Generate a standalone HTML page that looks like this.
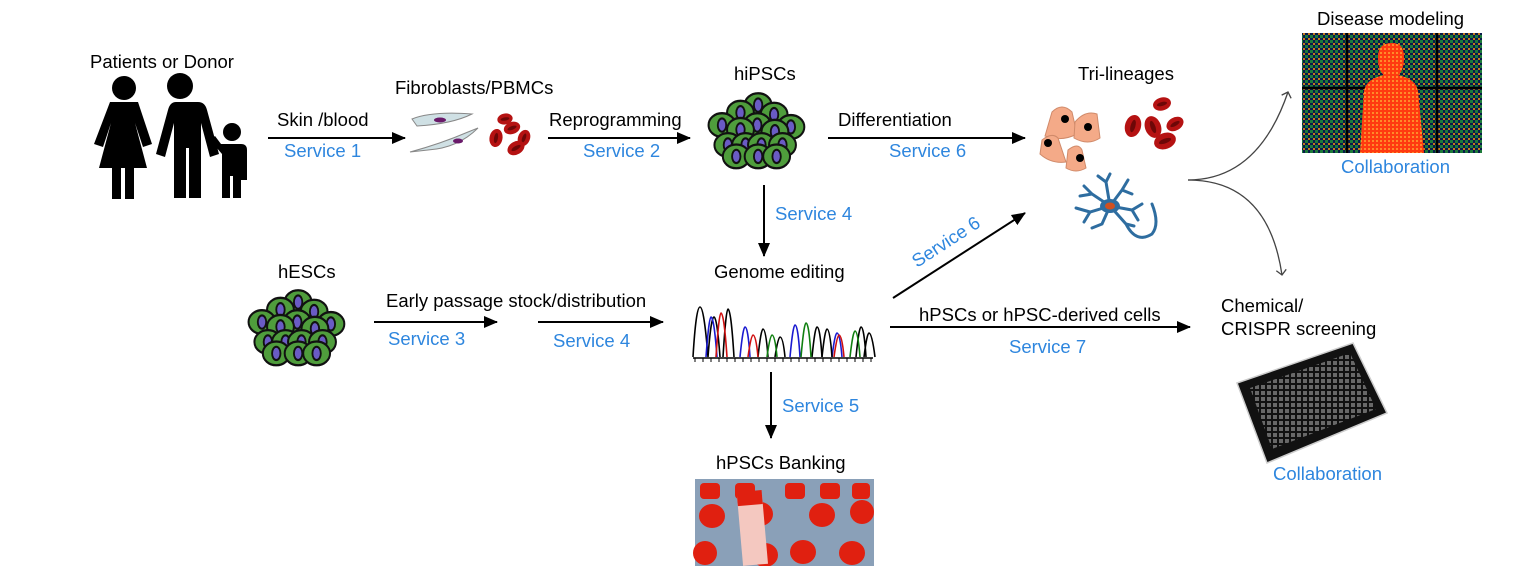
<!DOCTYPE html>
<html><head><meta charset="utf-8"><style>
html,body{margin:0;padding:0;background:#fff;}
svg{display:block;}
text{font-family:"Liberation Sans",Arial,sans-serif;font-size:18.5px;fill:#000;}
.b{fill:#2e86de;}
</style></head><body>
<svg width="1525" height="566" viewBox="0 0 1525 566" xmlns="http://www.w3.org/2000/svg">
<defs>
<marker id="ah" markerWidth="14" markerHeight="12" refX="13" refY="6" orient="auto" markerUnits="userSpaceOnUse">
<path d="M0,0 L14,6 L0,12 z" fill="#000"/></marker>
<marker id="ao" markerWidth="12" markerHeight="12" refX="6" refY="6" orient="auto" markerUnits="userSpaceOnUse">
<path d="M1,1 L6,6 L1,11" fill="none" stroke="#444" stroke-width="1.3"/></marker>
<g id="cell"><ellipse rx="16" ry="12.5" fill="#4f9d3c" stroke="#111" stroke-width="2.4"/><ellipse rx="5" ry="7" fill="#6a5bc4" stroke="#111" stroke-width="2.2"/></g>
<g id="cluster">
<use href="#cell" x="68" y="18"/><use href="#cell" x="47" y="26"/><use href="#cell" x="87" y="28"/>
<use href="#cell" x="25" y="39"/><use href="#cell" x="67" y="39"/><use href="#cell" x="107" y="41"/>
<use href="#cell" x="47" y="44"/><use href="#cell" x="88" y="46"/>
<use href="#cell" x="32" y="60"/><use href="#cell" x="53" y="60"/><use href="#cell" x="72" y="60"/><use href="#cell" x="97" y="60"/>
<use href="#cell" x="42" y="72"/><use href="#cell" x="68" y="72"/><use href="#cell" x="90" y="72"/>
</g>
<g id="rbc"><ellipse rx="10" ry="14" fill="#b51212"/><ellipse rx="3" ry="8" fill="#6d0707"/></g>
<pattern id="grid" width="5" height="5" patternUnits="userSpaceOnUse"><rect width="5" height="5" fill="#0a1a4a"/><rect width="3" height="3" fill="#1d7a3a"/><rect x="3" y="3" width="2" height="2" fill="#c77a1a"/></pattern>
<pattern id="grid2" width="4" height="4" patternUnits="userSpaceOnUse"><rect width="4" height="4" fill="#ff3a10"/><rect width="2" height="2" fill="#ff8a2a"/></pattern>
<pattern id="wells" width="6" height="6" patternUnits="userSpaceOnUse"><rect width="6" height="6" fill="#111"/><rect x="1" y="1" width="4" height="4" fill="#777"/></pattern>
</defs>

<!-- people -->
<text x="90" y="68">Patients or Donor</text>
<g fill="#000">
<circle cx="124" cy="88" r="12"/>
<path d="M110,102 h28 l14,42 l-9,3 l-8,-24 l12,45 h-13 v31 h-9 v-31 h-4 v31 h-9 v-31 h-13 l12,-45 l-8,24 l-9,-3 z"/>
<circle cx="180" cy="86" r="13"/>
<path d="M162,102 h36 q7,0 9,8 l12,44 l-9,3 l-9,-34 v75 h-12 v-50 h-3 v50 h-12 v-75 l-9,34 l-9,-3 l12,-44 q2,-8 8,-8z"/>
<circle cx="232" cy="132" r="9"/>
<path d="M221,144 h20 q6,0 6,6 v30 h-6 v-20 v38 h-8 v-22 h-3 v22 h-8 v-44 l-12,-14 l5,-4z"/>
</g>

<text x="277" y="126">Skin /blood</text>
<text x="284" y="157" class="b">Service 1</text>
<line x1="268" y1="138" x2="405" y2="138" stroke="#000" stroke-width="2" marker-end="url(#ah)"/>

<text x="395" y="94">Fibroblasts/PBMCs</text>
<path d="M412,119 q20,-8 60,-5 q-20,10 -55,12 z" fill="#cfe0e4" stroke="#888"/>
<ellipse cx="440" cy="120" rx="6" ry="2.5" fill="#6a1a6a"/>
<path d="M410,152 q30,-8 58,-20 l10,-4 q-20,20 -50,22 z" fill="#cfe0e4" stroke="#888"/>
<ellipse cx="458" cy="141" rx="5" ry="2.5" fill="#6a1a6a"/>
<use href="#rbc" transform="translate(496,138) rotate(10) scale(0.65)"/>
<use href="#rbc" transform="translate(512,128) rotate(70) scale(0.6)"/>
<use href="#rbc" transform="translate(524,138) rotate(20) scale(0.6)"/>
<use href="#rbc" transform="translate(516,148) rotate(60) scale(0.65)"/>
<use href="#rbc" transform="translate(505,119) rotate(80) scale(0.55)"/>

<text x="549" y="126">Reprogramming</text>
<text x="583" y="157" class="b">Service 2</text>
<line x1="548" y1="138" x2="690" y2="138" stroke="#000" stroke-width="2" marker-end="url(#ah)"/>

<text x="734" y="80">hiPSCs</text>
<use href="#cluster" transform="translate(701,88) scale(0.84,0.95)"/>

<text x="838" y="126">Differentiation</text>
<text x="889" y="157" class="b">Service 6</text>
<line x1="828" y1="138" x2="1025" y2="138" stroke="#000" stroke-width="2" marker-end="url(#ah)"/>

<text x="1078" y="80">Tri-lineages</text>
<g fill="#f4aa88" stroke="#d08a6a">
<path d="M1052,112 q10,-10 20,0 l5,22 q-15,8 -32,2z"/>
<path d="M1075,122 q10,-12 22,-8 l3,24 q-12,8 -26,0z"/>
<path d="M1042,140 q10,-8 16,-2 l8,24 q-15,2 -26,-8z"/>
<path d="M1068,150 q10,-8 14,0 l4,18 q-10,6 -20,0z"/>
</g>
<g fill="#000"><circle cx="1065" cy="119" r="4"/><circle cx="1088" cy="127" r="4"/><circle cx="1048" cy="143" r="4"/><circle cx="1080" cy="158" r="4"/></g>
<use href="#rbc" transform="translate(1133,126) rotate(15) scale(0.8)"/>
<use href="#rbc" transform="translate(1162,104) rotate(75) scale(0.65)"/>
<use href="#rbc" transform="translate(1153,127) rotate(-20) scale(0.8)"/>
<use href="#rbc" transform="translate(1175,124) rotate(60) scale(0.65)"/>
<use href="#rbc" transform="translate(1165,141) rotate(70) scale(0.8)"/>
<g stroke="#2e6da0" stroke-width="3" fill="none" stroke-linecap="round">
<path d="M1110,206 l-18,-12 l-8,-8 M1092,194 l-12,2 M1110,206 l-4,-24 l-8,-6 M1106,182 l4,-8 M1110,206 l12,-16 l6,-10 M1122,190 l10,4 M1110,206 l22,4 l10,-6 M1132,210 l6,10 M1110,206 l-20,6 l-14,-4 M1090,212 l-6,10 M1110,206 l-8,18 l-10,4 M1110,206 l16,18 l8,2 M1126,224 q10,20 26,10 q8,-10 0,-30"/>
</g>
<ellipse cx="1110" cy="206" rx="10" ry="7" fill="#2e6da0"/>
<ellipse cx="1110" cy="206" rx="5" ry="3.5" fill="#d05020"/>

<!-- curves -->
<path d="M1188,180 q70,0 100,-88" fill="none" stroke="#444" stroke-width="1.3" marker-end="url(#ao)"/>
<path d="M1188,180 q80,0 94,95" fill="none" stroke="#444" stroke-width="1.3" marker-end="url(#ao)"/>

<text x="1317" y="25">Disease modeling</text>
<rect x="1302" y="33" width="180" height="120" fill="url(#grid)"/>
<g stroke="#000" stroke-width="2.5"><line x1="1347" y1="33" x2="1347" y2="153"/><line x1="1437" y1="33" x2="1437" y2="153"/><line x1="1302" y1="88" x2="1482" y2="88"/></g>
<path d="M1392,43 q12,0 12,14 q0,14 -6,18 q18,4 20,16 l6,62 h-64 l4,-62 q2,-12 20,-16 q-6,-4 -6,-18 q0,-14 14,-14z" fill="url(#grid2)"/>
<text x="1341" y="173" class="b">Collaboration</text>

<text x="1221" y="312">Chemical/</text>
<text x="1221" y="335">CRISPR screening</text>
<path d="M1237,383 l116,-40 l34,70 l-120,50 z" fill="#111" stroke="#ccc" stroke-width="1.5"/>
<path d="M1250,388 l100,-35 l26,56 l-104,40z" fill="url(#wells)" opacity="0.85"/>
<text x="1273" y="480" class="b">Collaboration</text>

<line x1="764" y1="185" x2="764" y2="256" stroke="#000" stroke-width="2" marker-end="url(#ah)"/>
<text x="775" y="220" class="b">Service 4</text>

<text x="714" y="278">Genome editing</text>
<g fill="none" stroke-width="1.6">
<path d="M693,357 q3,-50 7,-50 q4,0 8,50 q3,-40 6,-40 q3,0 6,40 M723,357 q3,-48 5,-48 q3,0 6,48" stroke="#000"/>
<path d="M706,357 q3,-40 5,-40 q3,0 6,40" stroke="#1a1ad0"/>
<path d="M716,357 q3,-44 5,-44 q3,0 6,44" stroke="#d01010"/>
<path d="M740,357 q3,-30 5,-30 q3,0 5,30 M790,357 q3,-32 5,-32 q3,0 5,32 M832,357 q3,-24 5,-24 q3,0 5,24" stroke="#1a1ad0"/>
<path d="M758,357 q3,-28 5,-28 q3,0 5,28 M812,357 q3,-30 5,-30 q3,0 5,30 M856,357 q3,-30 5,-30 q3,0 5,30 M775,357 q3,-20 5,-20 q3,0 5,20" stroke="#000"/>
<path d="M748,357 q3,-22 5,-22 q3,0 5,22 M834,357 q3,-22 5,-22 q3,0 5,22" stroke="#d01010"/>
<path d="M767,357 q3,-22 5,-22 q3,0 5,22 M801,357 q3,-34 5,-34 q3,0 5,34 M850,357 q3,-26 5,-26 q3,0 5,26" stroke="#108010"/>
<path d="M822,357 q3,-28 5,-28 q3,0 5,28 M864,357 q3,-24 5,-24 q3,0 6,24" stroke="#000"/>
<line x1="693" y1="358" x2="873" y2="358" stroke="#000" stroke-width="1.5"/>
</g>
<path d="M695,358 v4 M703,358 v4 M711,358 v4 M719,358 v4 M727,358 v4 M735,358 v4 M743,358 v4 M751,358 v4 M759,358 v4 M767,358 v4 M775,358 v4 M783,358 v4 M791,358 v4 M799,358 v4 M807,358 v4 M815,358 v4 M823,358 v4 M831,358 v4 M839,358 v4 M847,358 v4 M855,358 v4 M863,358 v4 M871,358 v4" stroke="#000"/>

<text x="278" y="278">hESCs</text>
<use href="#cluster" transform="translate(241,285) scale(0.84,0.95)"/>
<text x="386" y="307">Early passage stock/distribution</text>
<line x1="374" y1="322" x2="497" y2="322" stroke="#000" stroke-width="2" marker-end="url(#ah)"/>
<text x="388" y="345" class="b">Service 3</text>
<line x1="538" y1="322" x2="663" y2="322" stroke="#000" stroke-width="2" marker-end="url(#ah)"/>
<text x="553" y="347" class="b">Service 4</text>

<line x1="893" y1="298" x2="1025" y2="213" stroke="#000" stroke-width="2" marker-end="url(#ah)"/>
<text x="0" y="0" class="b" transform="translate(917,268) rotate(-33)">Service 6</text>

<line x1="890" y1="327" x2="1190" y2="327" stroke="#000" stroke-width="2" marker-end="url(#ah)"/>
<text x="919" y="321">hPSCs or hPSC-derived cells</text>
<text x="1009" y="353" class="b">Service 7</text>

<line x1="771" y1="372" x2="771" y2="438" stroke="#000" stroke-width="2" marker-end="url(#ah)"/>
<text x="782" y="412" class="b">Service 5</text>

<text x="716" y="469">hPSCs Banking</text>
<rect x="695" y="479" width="179" height="87" fill="#8aa0b8"/>
<g fill="#e02010">
<rect x="700" y="483" width="20" height="16" rx="4"/><rect x="735" y="483" width="20" height="16" rx="4"/><rect x="785" y="483" width="20" height="16" rx="4"/><rect x="820" y="483" width="20" height="16" rx="4"/><rect x="852" y="483" width="18" height="16" rx="4"/>
<ellipse cx="712" cy="516" rx="13" ry="12"/><ellipse cx="760" cy="514" rx="13" ry="12"/><ellipse cx="822" cy="515" rx="13" ry="12"/><ellipse cx="862" cy="512" rx="12" ry="12"/>
<ellipse cx="705" cy="553" rx="12" ry="12"/><ellipse cx="765" cy="555" rx="13" ry="12"/><ellipse cx="803" cy="552" rx="13" ry="12"/><ellipse cx="852" cy="553" rx="13" ry="12"/>
</g>
<rect x="740" y="495" width="25" height="70" fill="#f4c8c0" transform="rotate(-5 752 530)"/>
<rect x="740" y="491" width="25" height="14" fill="#e02010" transform="rotate(-5 752 530)"/>
</svg>
</body></html>
